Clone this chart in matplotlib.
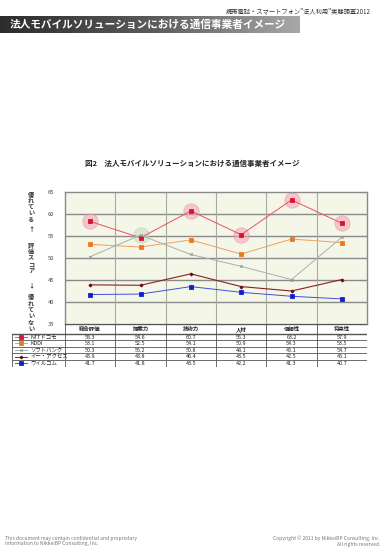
import numpy as np
import matplotlib
matplotlib.use("Agg")
import matplotlib.pyplot as plt

plt.rcParams['font.family'] = ['Noto Sans CJK JP', 'DejaVu Sans']

# 1) Data
# ===================================================================
categories = ["総合評価", "提案力", "技術力", "人材", "信頼性", "将来性"]
carriers = ["NTTドコモ", "KDDI", "ソフトバンク", "イー・アクセス", "ウィルコム"]
docomo = [58.3, 54.6, 60.7, 55.3, 63.2, 57.9]
kddi = [53.1, 52.5, 54.1, 50.9, 54.3, 53.5]
softbank = [50.3, 55.2, 50.8, 48.1, 45.1, 54.7]
eaccess = [43.9, 43.8, 46.4, 43.5, 42.5, 45.1]
willcom = [41.7, 41.8, 43.5, 42.2, 41.3, 40.7]
y_ticks = [35, 40, 45, 50, 55, 60, 65]

series = [docomo, kddi, softbank, eaccess, willcom]
styles = [
    dict(color="#e8506a", mfc="#e01030", marker="s", ms=2.2, lw=0.7),
    dict(color="#f0a060", mfc="#f07818", marker="s", ms=2.6, lw=0.7),
    dict(color="#a8b0a8", mfc="#8a948a", marker="x", ms=1.8, lw=0.7),
    dict(color="#8a2020", mfc="#6a0a0a", marker="D", ms=1.6, lw=0.8),
    dict(color="#4050e0", mfc="#1020d0", marker="s", ms=2.2, lw=0.7),
]

# 2) Figure
# ===================================================================
W, H = 384, 554
fig = plt.figure(figsize=(W / 100, H / 100), dpi=100)

def box(x0, y0, x1, y1):
    # pixel box (top-left origin) -> figure fraction
    return [x0 / W, 1 - y1 / H, (x1 - x0) / W, (y1 - y0) / H]

# header text
fig.text(371 / W, 1 - 11 / H, "携帯電話・スマートフォン\"法人利用\"実態調査2012",
         ha="right", va="center", fontsize=4.5, color="#333333")

# title bar with gradient
bar = fig.add_axes(box(0, 16, 300, 33))
grad = np.linspace(0, 1, 256).reshape(1, -1)
bar.imshow(grad, aspect="auto", cmap=matplotlib.colors.LinearSegmentedColormap.from_list(
    "g", ["#2c2c2c", "#5a5a5a", "#a8a8a8"]), extent=[0, 1, 0, 1])
bar.set_axis_off()
bar.text(0.033, 0.47, "法人モバイルソリューションにおける通信事業者イメージ",
         ha="left", va="center", fontsize=7.7, fontweight="bold", color="white",
         transform=bar.transAxes)

# caption
fig.text(192 / W, 1 - 163 / H, "図2　法人モバイルソリューションにおける通信事業者イメージ",
         ha="center", va="center", fontsize=5.4, fontweight="bold", color="#222222")

# 3) Chart
# ===================================================================
ax = fig.add_axes(box(65, 192, 367, 324))
ax.set_facecolor("#f4f6e8")
x = np.arange(len(categories))

# highlight circles for the top carrier of each category
for i in range(len(categories)):
    vals = [s[i] for s in series]
    k = int(np.argmax(vals))
    fc = "#f4a8b8" if k == 0 else "#c8dcc0"
    ec = "#f090a8" if k == 0 else "#b8d0b0"
    ax.plot(x[i], vals[k], marker="o", ms=11, mfc=fc, mec=ec, alpha=0.6,
            mew=0.6, ls="none", zorder=2)

for s, st in zip(series, styles):
    ax.plot(x, s, color=st["color"], lw=st["lw"], marker=st["marker"],
            ms=st["ms"], mfc=st["mfc"], mec=st["mfc"], mew=0.6, zorder=3)

ax.set_xlim(-0.5, len(categories) - 0.5)
ax.set_ylim(35, 65)
ax.set_yticks(y_ticks)
ax.set_yticklabels([str(v) for v in y_ticks], fontsize=4.2, color="#444444")
ax.tick_params(axis="y", length=0, pad=8)
ax.set_xticks([])
for v in y_ticks[1:-1]:
    ax.axhline(v, color="#8a8a8a", lw=1.0, zorder=1)
for i in range(len(categories) - 1):
    ax.axvline(i + 0.5, color="#a8aca0", lw=0.8, zorder=1)
for sp in ax.spines.values():
    sp.set_color("#8a8a8a")
    sp.set_linewidth(1.0)

# vertical axis label, one character per line
ylab = [("優れている", 194), ("↑", 230), ("評価スコア", 245), ("↓", 285), ("優れていない", 297)]
pitch = 6.3
for txt, ytop in ylab:
    for k, ch in enumerate(txt):
        fig.text(31 / W, 1 - (ytop + k * pitch) / H, ch, ha="center", va="center",
                 fontsize=4.4, fontweight="bold", color="#333333")

# 4) Data table (y in pixels from the axis bottom)
# ===================================================================
tb = fig.add_axes(box(12, 324, 367, 367))
lead = 53 / ((367 - 65) / 6)
tb.set_xlim(-lead, len(categories))
tb.set_ylim(43, 0)
tb.set_axis_off()
head_h, row_h = 9.5, 6.6
row_edges = [head_h + row_h * r for r in range(len(carriers) + 1)]

lc = "#555555"
tb.plot([0, len(categories)], [0, 0], color=lc, lw=0.8)
for j in range(len(categories) + 1):
    tb.plot([j, j], [0, row_edges[-1]], color=lc, lw=0.6)
tb.plot([-lead, -lead], [head_h, row_edges[-1]], color=lc, lw=0.6)
for yy in row_edges:
    tb.plot([-lead, len(categories)], [yy, yy], color=lc, lw=0.6)
tb.plot([-lead, len(categories)], [head_h, head_h], color=lc, lw=1.0)

for j, c in enumerate(categories):
    tb.text(j + 0.5, head_h / 2 + 0.3, c, ha="center", va="center", fontsize=3.9,
            fontweight="bold", color="#222222")

for r, (name, s, st) in enumerate(zip(carriers, series, styles)):
    yc = row_edges[r] + row_h / 2
    tb.plot([-lead + 0.06, -lead + 0.30], [yc, yc], color=st["color"], lw=0.7)
    tb.plot([-lead + 0.18], [yc], marker=st["marker"], ms=st["ms"],
            mfc=st["mfc"], mec=st["mfc"], mew=0.6)
    tb.text(-lead + 0.36, yc + 0.3, name, ha="left", va="center", fontsize=3.9,
            color="#222222")
    for j, v in enumerate(s):
        tb.text(j + 0.5, yc + 0.3, f"{v:.1f}", ha="center", va="center",
                fontsize=3.9, color="#222222")

# 5) Footer
# ===================================================================
fig.text(5 / W, 1 - 541 / H,
         "This document may contain confidential and proprietary\ninformation to NikkeiBP Consulting, Inc.",
         ha="left", va="center", fontsize=3.6, color="#777777", linespacing=1.1)
fig.text(380 / W, 1 - 541 / H,
         "Copyright © 2011 by NikkeiBP Consulting, Inc.\nAll rights reserved.",
         ha="right", va="center", fontsize=3.6, color="#777777", linespacing=1.1,
         multialignment="right")

fig.savefig("out.png", dpi=100)
